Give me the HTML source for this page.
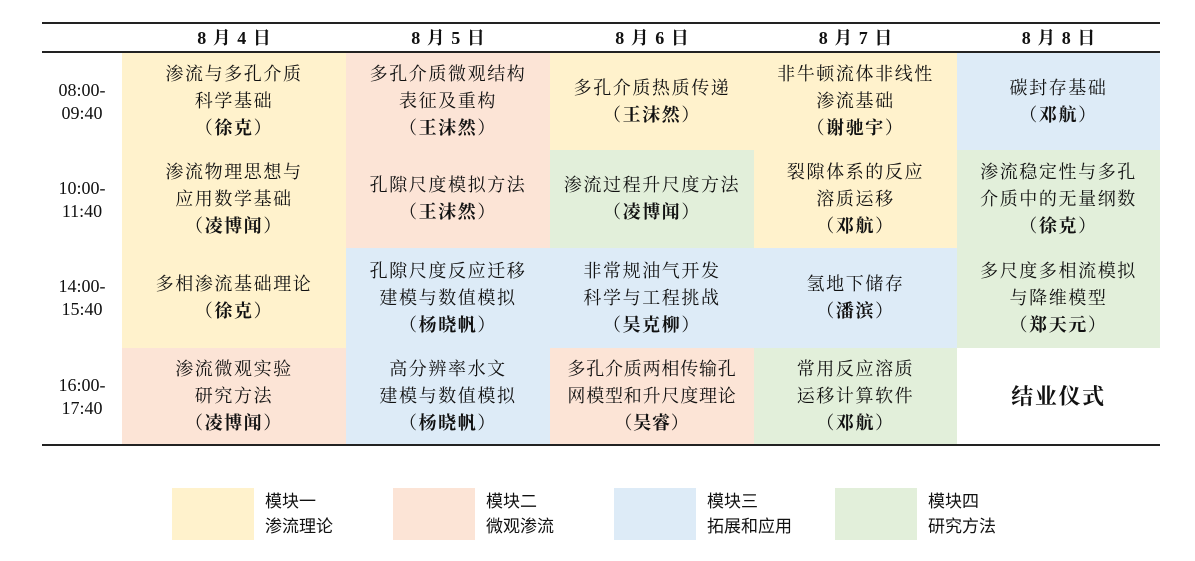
<!DOCTYPE html>
<html><head><meta charset="utf-8"><style>
body{margin:0;width:1195px;height:561px;background:#fff;position:relative;overflow:hidden;font-family:"Liberation Serif","Noto Serif CJK SC",serif;color:#111}
.c{position:absolute;display:flex;justify-content:center;align-items:center;text-align:center;font-size:18px;line-height:27px;letter-spacing:1.6px}
.y{background:#FFF2CC}.p{background:#FCE4D6}.b{background:#DDEBF7}.g{background:#E2EFDA}
b{font-weight:bold}
.h{position:absolute;top:22px;height:30px;line-height:32px;font-weight:bold;font-size:18px;text-align:center;word-spacing:2px}
.t{position:absolute;left:42px;width:80px;text-align:center;font-size:18px;line-height:23px}
.line{position:absolute;left:42px;width:1118px;background:#222}
.lg{position:absolute;top:488px;width:82px;height:52px}
.lt{position:absolute;top:489px;font-size:17px;line-height:25px;font-family:"Liberation Sans","Noto Sans CJK SC",sans-serif}
</style></head><body>
<div class="line" style="top:22px;height:1.5px"></div>
<div class="line" style="top:51px;height:1.5px"></div>
<div class="line" style="top:444px;height:2px"></div>
<div class="h" style="left:122px;width:224px">8 月 4 日</div>
<div class="h" style="left:346px;width:204px">8 月 5 日</div>
<div class="h" style="left:550px;width:204px">8 月 6 日</div>
<div class="h" style="left:754px;width:203px">8 月 7 日</div>
<div class="h" style="left:957px;width:203px">8 月 8 日</div>
<div class="t" style="top:79px">08:00-<br>09:40</div>
<div class="t" style="top:177px">10:00-<br>11:40</div>
<div class="t" style="top:275px">14:00-<br>15:40</div>
<div class="t" style="top:374px">16:00-<br>17:40</div>

<div class="c y" style="left:122px;top:53px;width:224px;height:97px"><div>渗流与多孔介质<br>科学基础<br>（<b>徐克</b>）</div></div>
<div class="c y" style="left:122px;top:150px;width:224px;height:98px"><div>渗流物理思想与<br>应用数学基础<br>（<b>凌博闻</b>）</div></div>
<div class="c y" style="left:122px;top:248px;width:224px;height:100px"><div>多相渗流基础理论<br>（<b>徐克</b>）</div></div>
<div class="c p" style="left:122px;top:348px;width:224px;height:96px"><div>渗流微观实验<br>研究方法<br>（<b>凌博闻</b>）</div></div>

<div class="c p" style="left:346px;top:53px;width:204px;height:97px"><div>多孔介质微观结构<br>表征及重构<br>（<b>王沫然</b>）</div></div>
<div class="c p" style="left:346px;top:150px;width:204px;height:98px"><div>孔隙尺度模拟方法<br>（<b>王沫然</b>）</div></div>
<div class="c b" style="left:346px;top:248px;width:204px;height:100px"><div>孔隙尺度反应迁移<br>建模与数值模拟<br>（<b>杨晓帆</b>）</div></div>
<div class="c b" style="left:346px;top:348px;width:204px;height:96px"><div>高分辨率水文<br>建模与数值模拟<br>（<b>杨晓帆</b>）</div></div>

<div class="c y" style="left:550px;top:53px;width:204px;height:97px"><div>多孔介质热质传递<br>（<b>王沫然</b>）</div></div>
<div class="c g" style="left:550px;top:150px;width:204px;height:98px"><div>渗流过程升尺度方法<br>（<b>凌博闻</b>）</div></div>
<div class="c b" style="left:550px;top:248px;width:204px;height:100px"><div>非常规油气开发<br>科学与工程挑战<br>（<b>吴克柳</b>）</div></div>
<div class="c p" style="left:550px;top:348px;width:204px;height:96px;letter-spacing:0.8px"><div>多孔介质两相传输孔<br>网模型和升尺度理论<br>（<b>吴睿</b>）</div></div>

<div class="c y" style="left:754px;top:53px;width:203px;height:97px"><div>非牛顿流体非线性<br>渗流基础<br>（<b>谢驰宇</b>）</div></div>
<div class="c y" style="left:754px;top:150px;width:203px;height:98px"><div>裂隙体系的反应<br>溶质运移<br>（<b>邓航</b>）</div></div>
<div class="c b" style="left:754px;top:248px;width:203px;height:100px"><div>氢地下储存<br>（<b>潘滨</b>）</div></div>
<div class="c g" style="left:754px;top:348px;width:203px;height:96px"><div>常用反应溶质<br>运移计算软件<br>（<b>邓航</b>）</div></div>

<div class="c b" style="left:957px;top:53px;width:203px;height:97px"><div>碳封存基础<br>（<b>邓航</b>）</div></div>
<div class="c g" style="left:957px;top:150px;width:203px;height:98px"><div>渗流稳定性与多孔<br>介质中的无量纲数<br>（<b>徐克</b>）</div></div>
<div class="c g" style="left:957px;top:248px;width:203px;height:100px"><div>多尺度多相流模拟<br>与降维模型<br>（<b>郑天元</b>）</div></div>
<div class="c" style="left:957px;top:348px;width:203px;height:96px;font-size:22px;font-weight:bold"><div>结业仪式</div></div>

<div class="lg y" style="left:172px"></div><div class="lt" style="left:265px">模块一<br>渗流理论</div>
<div class="lg p" style="left:393px"></div><div class="lt" style="left:486px">模块二<br>微观渗流</div>
<div class="lg b" style="left:614px"></div><div class="lt" style="left:707px">模块三<br>拓展和应用</div>
<div class="lg g" style="left:835px"></div><div class="lt" style="left:928px">模块四<br>研究方法</div>
</body></html>
